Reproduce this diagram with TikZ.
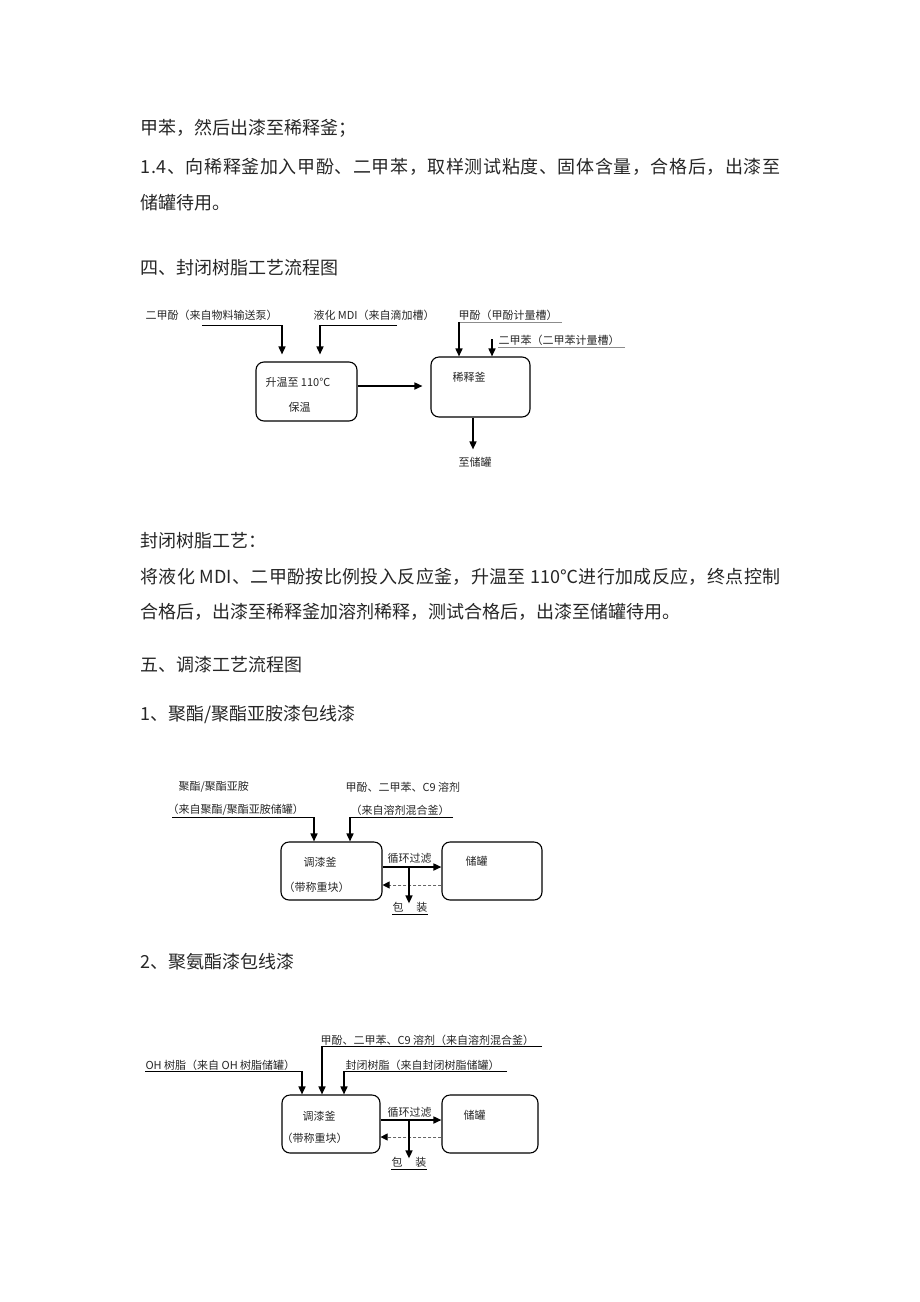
\documentclass[tikz,border=0pt]{standalone}
\usepackage{fontspec}
\setmainfont{Noto Sans CJK SC}
\usetikzlibrary{arrows.meta}

\ExplSyntaxOn
\NewDocumentCommand \spreadline { m m }
  { \hbox to #1 { \tl_map_inline:nn {#2} { ##1 \hfil } \unskip } }
\ExplSyntaxOff

\newcommand\bodyfont{\fontsize{18pt}{21pt}\selectfont}
\newcommand\headfont{\fontsize{18pt}{22pt}\selectfont}
\newcommand\flowfont{\fontsize{11pt}{13pt}\selectfont}

\tikzset{every picture/.style={line width=1pt}}
\tikzset{
  body/.style={anchor=west,inner sep=0pt,font=\bodyfont,text=black!85},
  head/.style={anchor=west,inner sep=0pt,font=\headfont,text=black!85},
  lbl/.style={anchor=west,inner sep=0pt,font=\flowfont,text=black!85},
  tank/.style={draw,rounded corners=8pt,line width=1.1pt,inner sep=0pt},
  feed/.style={line width=1.6pt,-{Triangle[length=8pt,width=7pt]}},
  uline/.style={line width=0.9pt},
  gline/.style={line width=0.9pt,draw=black!45},
  back/.style={line width=0.8pt,draw=black!60,dash pattern={on 3pt off 2pt},
    -{Triangle[length=7pt,width=7pt,color=black,fill=black]}}
}

\begin{document}
\begin{tikzpicture}[x=1pt,y=1pt,yscale=-1,xscale=1]
		\useasboundingbox (0,0) rectangle (920,1302);
		
		% Text Node
		\node [body] (t1) at (140,128) {甲苯，然后出漆至稀释釜；};
		% Text Node
		\node [body] (t2) at (140,167) {\spreadline{640pt}{1.4、向稀释釜加入甲酚、二甲苯，取样测试粘度、固体含量，合格后，出漆至}};
		% Text Node
		\node [body] (t3) at (140,203) {储罐待用。};
		% Text Node
		\node [head] (h4) at (140,268) {四、封闭树脂工艺流程图};
		
		%Shape: Rounded Rect [id:heat] 
		\node [tank,minimum width=101pt,minimum height=59pt] (heat) at (306.5,391.5) {};
		%Shape: Rounded Rect [id:dilute] 
		\node [tank,minimum width=99pt,minimum height=60pt] (dilute) at (480.5,387) {};
		
		% Text Node
		\node [lbl] (xyla) at (145,315) {二甲酚（来自物料输送泵）};
		% Text Node
		\node [lbl] (mdia) at (313,315) {液化 MDI（来自滴加槽）};
		% Text Node
		\node [lbl] (phna) at (458,315) {甲酚（甲酚计量槽）};
		% Text Node
		\node [lbl] (tola) at (498,340) {二甲苯（二甲苯计量槽）};
		% Text Node
		\node [lbl] (heatt) at (265,382) {升温至 110℃};
		% Text Node
		\node [lbl] (holdt) at (288,407) {保温};
		% Text Node
		\node [lbl] (dilt) at (452,377) {稀释釜};
		% Text Node
		\node [lbl,anchor=center] (store) at (475,462) {至储罐};
		
		\coordinate (xyl0) at (202,325);
		\coordinate (xyl1) at (282,325);
		\coordinate (mdi0) at (397,325);
		\coordinate (mdi1) at (320,325);
		\coordinate (phn0) at (562,322);
		\coordinate (phn1) at (459,322);
		\coordinate (tol0) at (625,347);
		\coordinate (tol1) at (498,347);
		\coordinate (tol2) at (492,339);
		
		%Straight Lines [id:feeds1] 
		\draw [uline] (xyl0) -- (xyl1);
		\draw [feed,shorten >=7pt] (xyl1) -- (xyl1 |- heat.north);
		\draw [uline] (mdi0) -- (mdi1);
		\draw [feed,shorten >=7pt] (mdi1) -- (mdi1 |- heat.north);
		\draw [gline] (phn0) -- (phn1);
		\draw [feed] (phn1) -- (phn1 |- dilute.north);
		\draw [gline] (tol0) -- (tol1);
		\draw [feed] (tol2) -- (tol2 |- dilute.north);
		%Straight Lines [id:heat2dilute] 
		\draw [feed,shorten >=8pt] ([yshift=-5.5pt]heat.east) -- ([yshift=-5.5pt]heat.east -| dilute.west);
		%Straight Lines [id:dilute2store] 
		\draw [feed,shorten >=7pt] ([xshift=-2pt]store.north |- dilute.south) -- ([xshift=-2pt]store.north);
		
		% Text Node
		\node [body] (t4) at (140,541) {封闭树脂工艺：};
		% Text Node
		\node [body] (t5) at (140,577) {\spreadline{640pt}{将液化{ MDI}、二甲酚按比例投入反应釜，升温至{ 110℃}进行加成反应，终点控制}};
		% Text Node
		\node [body] (t6) at (140,612) {合格后，出漆至稀释釜加溶剂稀释，测试合格后，出漆至储罐待用。};
		% Text Node
		\node [head] (h5) at (140,665) {五、调漆工艺流程图};
		% Text Node
		\node [head] (h51) at (140,714) {1、聚酯/聚酯亚胺漆包线漆};
		
		%Shape: Rounded Rect [id:mixA] 
		\node [tank,minimum width=101pt,minimum height=58pt] (mixA) at (331.5,871) {};
		%Shape: Rounded Rect [id:tankA] 
		\node [tank,minimum width=100pt,minimum height=58pt] (tankA) at (492,871) {};
		
		% Text Node
		\node [lbl] (pesa) at (178,787) {聚酯/聚酯亚胺};
		% Text Node
		\node [lbl] (pesb) at (167,810) {（来自聚酯/聚酯亚胺储罐）};
		% Text Node
		\node [lbl] (solva) at (345,787) {甲酚、二甲苯、C9 溶剂};
		% Text Node
		\node [lbl] (solvb) at (350,810) {（来自溶剂混合釜）};
		% Text Node
		\node [lbl] (mixAt) at (303,862) {调漆釜};
		% Text Node
		\node [lbl] (mixAs) at (283,887) {（带称重块）};
		% Text Node
		\node [lbl] (tankAt) at (465,861) {储罐};
		% Text Node
		\node [lbl] (loopA) at (387,858) {循环过滤};
		% Text Node
		\node [lbl,anchor=center] (packA) at (410,907) {包\hspace{13pt}装};
		
		\coordinate (pes0) at (172,817);
		\coordinate (pes1) at (314,817);
		\coordinate (solv0) at (453,817);
		\coordinate (solv1) at (350,817);
		\coordinate (splitA) at (409,867);
		
		%Straight Lines [id:feedsA] 
		\draw [uline] (pes0) -- (pes1);
		\draw [feed] (pes1) -- (pes1 |- mixA.north);
		\draw [uline] (solv0) -- (solv1);
		\draw [feed] (solv1) -- (solv1 |- mixA.north);
		%Straight Lines [id:loopA] 
		\draw [feed] ([yshift=-4pt]mixA.east) -- ([yshift=-4pt]mixA.east -| tankA.west);
		\draw [back] ([yshift=14pt]tankA.west) -- ([yshift=14pt]tankA.west -| mixA.east);
		\draw [feed,shorten >=-2pt] (splitA) -- (splitA |- packA.north);
		\draw [uline] ([yshift=1.5pt]packA.south west) -- ([yshift=1.5pt]packA.south east);
		
		% Text Node
		\node [head] (h52) at (140,962) {2、聚氨酯漆包线漆};
		
		%Shape: Rounded Rect [id:mixB] 
		\node [tank,minimum width=98pt,minimum height=58pt] (mixB) at (331,1124) {};
		%Shape: Rounded Rect [id:tankB] 
		\node [tank,minimum width=96pt,minimum height=58pt] (tankB) at (490,1124) {};
		
		% Text Node
		\node [lbl] (solvc) at (320,1040) {甲酚、二甲苯、C9 溶剂（来自溶剂混合釜）};
		% Text Node
		\node [lbl] (oha) at (145,1065) {OH 树脂（来自 OH 树脂储罐）};
		% Text Node
		\node [lbl] (blka) at (345,1065) {封闭树脂（来自封闭树脂储罐）};
		% Text Node
		\node [lbl] (mixBt) at (302,1116) {调漆釜};
		% Text Node
		\node [lbl] (mixBs) at (281,1138) {（带称重块）};
		% Text Node
		\node [lbl] (tankBt) at (463,1115) {储罐};
		% Text Node
		\node [lbl] (loopB) at (387,1112) {循环过滤};
		% Text Node
		\node [lbl,anchor=center] (packB) at (409,1162) {包\hspace{13pt}装};
		
		\coordinate (solc0) at (542,1046);
		\coordinate (solc1) at (322,1046);
		\coordinate (oh0) at (145,1071);
		\coordinate (oh1) at (302,1071);
		\coordinate (blk0) at (507,1071);
		\coordinate (blk1) at (344,1071);
		\coordinate (splitB) at (409,1120);
		
		%Straight Lines [id:feedsB] 
		\draw [uline] (solc0) -- (solc1);
		\draw [feed] (solc1) -- (solc1 |- mixB.north);
		\draw [uline] (oh0) -- (oh1);
		\draw [feed] (oh1) -- (oh1 |- mixB.north);
		\draw [uline] (blk0) -- (blk1);
		\draw [feed] (blk1) -- (blk1 |- mixB.north);
		%Straight Lines [id:loopB] 
		\draw [feed] ([yshift=-4pt]mixB.east) -- ([yshift=-4pt]mixB.east -| tankB.west);
		\draw [back] ([yshift=13pt]tankB.west) -- ([yshift=13pt]tankB.west -| mixB.east);
		\draw [feed,shorten >=-2pt] (splitB) -- (splitB |- packB.north);
		\draw [uline] ([yshift=1.5pt]packB.south west) -- ([yshift=1.5pt]packB.south east);
		
\end{tikzpicture}
\end{document}
